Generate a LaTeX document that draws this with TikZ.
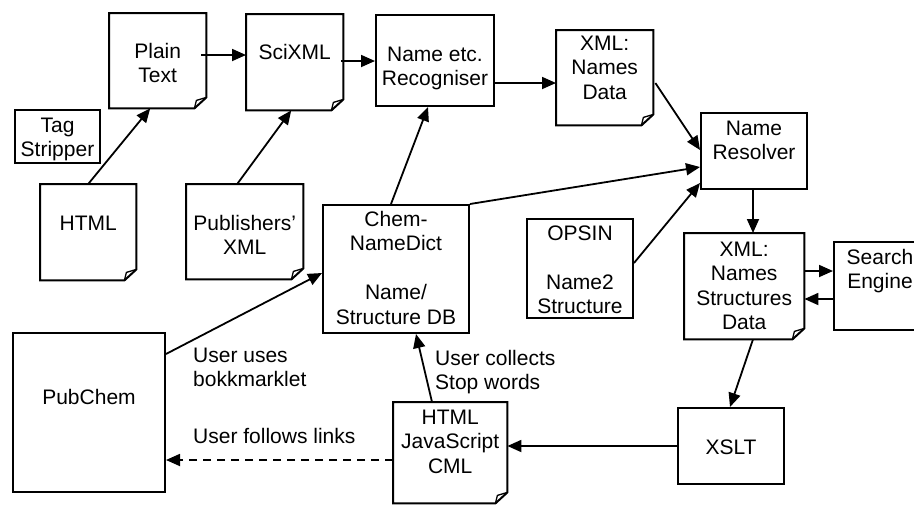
\documentclass[tikz,border=0pt]{standalone}
\usepackage{fontspec}
\setmainfont{Liberation Sans}
\usetikzlibrary{arrows.meta}
\newcommand\docframe[1]{%
  \draw[frame] (#1.north west) -- (#1.north east) -- ([yshift=11pt]#1.south east)
     -- ([xshift=-12pt]#1.south east) -- (#1.south west) -- cycle;
  \draw[frame, line width=1.3pt] ([xshift=-12pt]#1.south east)
     -- ([xshift=-10pt,yshift=8pt]#1.south east) -- ([yshift=11pt]#1.south east);}
\newcommand\boxtext[4]{\parbox[c][#2pt][t]{#1pt}{\centering\rule{0pt}{#3pt}#4}}
\begin{document}
\begin{tikzpicture}[x=1pt,y=-1pt,
  every node/.style={font=\fontsize{21}{24.5}\selectfont, inner sep=0pt},
  plainbox/.style={draw, line width=2pt, anchor=north west},
  docbox/.style={anchor=north west},
  frame/.style={line width=2pt, line join=miter},
  conn/.style={line width=1.8pt, -{Triangle[length=14pt,width=12pt]}},
  dashconn/.style={conn, dash pattern=on 8pt off 6pt},
  lbl/.style={anchor=base west}]
\useasboundingbox (0,0) rectangle (914,504);

\node[docbox] (plain) at (109,13) {\boxtext{97}{95}{45}{Plain\\Text}};
\node[docbox] (scixml) at (246,14) {\boxtext{97}{96}{45}{SciXML}};
\node[plainbox] (recog) at (375,14) {\boxtext{118}{91}{46}{Name etc.\\Recogniser}};
\node[docbox] (xmlnames) at (556,30) {\boxtext{97}{95}{20}{XML:\\Names\\Data}};
\node[plainbox] (tag) at (14,109) {\boxtext{85}{53}{22}{Tag\\Stripper}};
\node[docbox] (html) at (40,184) {\boxtext{96}{96}{46}{HTML}};
\node[docbox] (pubxml) at (186,184) {\boxtext{117}{95}{46}{Publishers'\\XML}};
\node[plainbox] (pubchem) at (12,332) {\boxtext{152}{159}{71}{PubChem}};
\node[plainbox] (chem) at (322,204) {\boxtext{146}{128}{21}{Chem-\\NameDict\\\mbox{}\\Name/\\Structure DB}};
\node[plainbox] (opsin) at (526,218) {\boxtext{106}{99}{21}{OPSIN\\\mbox{}\\Name2\\Structure}};
\node[plainbox] (resolver) at (700,112) {\boxtext{106}{76}{22}{Name\\Resolver}};
\node[docbox] (xmlnsd) at (684,233) {\boxtext{120}{106}{23}{XML:\\Names\\Structures\\Data}};
\node[plainbox] (search) at (833,241) {\boxtext{92}{88}{22}{Search\\Engine}};
\node[plainbox] (xslt) at (677,407) {\boxtext{106}{76}{46}{XSLT}};
\node[docbox] (htmljs) at (393,402) {\boxtext{114}{101}{22}{HTML\\JavaScript\\CML}};

\docframe{plain}
\docframe{scixml}
\docframe{xmlnames}
\docframe{html}
\docframe{pubxml}
\docframe{xmlnsd}
\docframe{htmljs}

\node[lbl] (l1) at (193,362) {\parbox[t]{150pt}{\raggedright User uses\\bokkmarklet}};
\node[lbl] (l2) at (193,443) {User follows links};
\node[lbl] (l3) at (435,365) {\parbox[t]{160pt}{\raggedright User collects\\Stop words}};

\draw[conn] ([xshift=-5pt]plain.east |- 0,55) -- (scixml.west |- 0,55);
\draw[conn] (html.north) -- ([xshift=-7.5pt]plain.south);
\draw[conn] ([xshift=-7.5pt]pubxml.north) -- ([xshift=-3.5pt]scixml.south);
\draw[conn] ([xshift=-2pt]scixml.east |- 0,61) -- (recog.west |- 0,61);
\draw[conn] (recog.east |- 0,83) -- (xmlnames.west |- 0,83);
\draw[conn] (chem.north -| 391,0) -- (recog.south -| 428,0);
\draw[conn] (chem.north east) -- (resolver.west |- 0,167);
\draw[conn] ([xshift=2pt]xmlnames.east |- 0,83) -- (resolver.west |- 0,150);
\draw[conn] (opsin.east |- 0,263) -- (resolver.west |- 0,183);
\draw[conn] (resolver.south -| 753,0) -- (xmlnsd.north -| 753,0);
\draw[conn] (xmlnsd.east |- 0,271) -- (search.west |- 0,271);
\draw[conn] (search.west |- 0,299) -- (xmlnsd.east |- 0,299);
\draw[conn] (xmlnsd.south -| 753,0) -- (xslt.north -| 730,0);
\draw[conn] (xslt.west |- 0,446) -- (htmljs.east |- 0,446);
\draw[conn] (htmljs.north -| 432,0) -- (chem.south -| 416,0);
\draw[dashconn] (htmljs.west |- 0,460) -- (pubchem.east |- 0,460);
\draw[conn] (pubchem.east |- 0,354) -- (chem.west |- 0,273);
\end{tikzpicture}
\end{document}
